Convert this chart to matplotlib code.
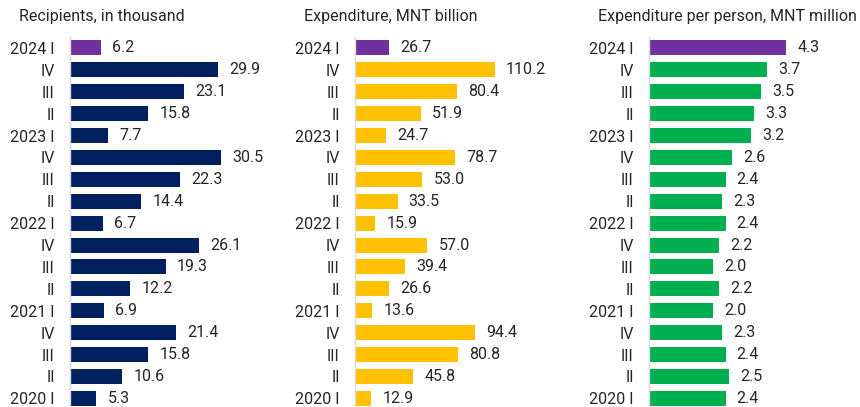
import matplotlib.pyplot as plt

plt.rcParams["font.family"] = ["Roboto", "DejaVu Sans"]

# Quarter labels, newest first
quarters = ["2024 I", "IV", "III", "II", "2023 I", "IV", "III", "II",
            "2022 I", "IV", "III", "II", "2021 I", "IV", "III", "II", "2020 I"]

recipients = [6.2, 29.9, 23.1, 15.8, 7.7, 30.5, 22.3, 14.4, 6.7,
              26.1, 19.3, 12.2, 6.9, 21.4, 15.8, 10.6, 5.3]
expenditure = [26.7, 110.2, 80.4, 51.9, 24.7, 78.7, 53.0, 33.5, 15.9,
               57.0, 39.4, 26.6, 13.6, 94.4, 80.8, 45.8, 12.9]
per_person = [4.3, 3.7, 3.5, 3.3, 3.2, 2.6, 2.4, 2.3, 2.4,
              2.2, 2.0, 2.2, 2.0, 2.3, 2.4, 2.5, 2.4]

titles = ["Recipients, in thousand", "Expenditure, MNT billion",
          "Expenditure per person, MNT million"]

W, H = 860, 407
TXT = "#262626"
HIGHLIGHT = "#7030A0"
FS = 11.5

fig = plt.figure(figsize=(W / 100, H / 100), dpi=100)

# (values, bar colour, axis x in px, px per unit, title x in px)
panels = [
    (recipients, "#002060", 70, 4.95, 19),
    (expenditure, "#FFC000", 355, 1.27, 304),
    (per_person, "#00B050", 649, 31.9, 598),
]

row_px = 21.9
top_px = 37
ax_w = 190
n = len(quarters)
ylo = -0.5 + (H - top_px) / row_px

for (vals, color, x0, scale, tx), title in zip(panels, titles):
    ax = fig.add_axes([x0 / W, 0, ax_w / W, (H - top_px) / H])
    colors = [HIGHLIGHT] + [color] * (n - 1)
    ypos = list(range(n))
    ax.barh(ypos, vals, height=15 / row_px, color=colors)
    ax.set_xlim(0, ax_w / scale)
    ax.set_ylim(ylo, -0.5)
    ax.set_yticks(ypos)
    ax.set_yticklabels(quarters, fontsize=FS, color=TXT)
    ax.tick_params(axis="y", length=0, pad=11)
    ax.set_xticks([])
    for s in ["top", "right", "bottom"]:
        ax.spines[s].set_visible(False)
    ax.spines["left"].set_color("#d9d9d9")
    ax.spines["left"].set_linewidth(1)
    for y, v in zip(ypos, vals):
        ax.annotate(f"{v:.1f}", (v, y), xytext=(8, 0), textcoords="offset points",
                    va="center", ha="left", fontsize=FS, color=TXT)
    fig.text(tx / W, 1 - 16 / H, title, fontsize=FS, color=TXT,
             ha="left", va="center")

fig.savefig("out.png", dpi=100)
